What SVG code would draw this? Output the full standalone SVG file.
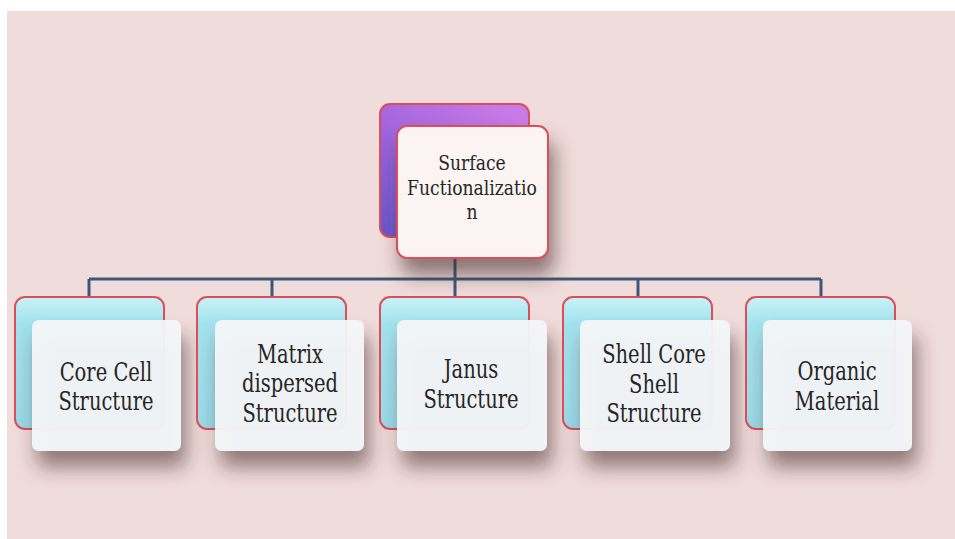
<svg xmlns="http://www.w3.org/2000/svg" width="955" height="539" viewBox="0 0 955 539">
<defs>
<style>
.back{stroke:#d9505a;stroke-width:2}
.cyan{fill:url(#gCyan)}
.purple{fill:url(#gPurple)}
.front{fill:#f4f7f9;fill-opacity:0.94;filter:url(#sh)}
.ftop{fill:#fcf3f3;stroke:#d9505a;stroke-width:2;filter:url(#sh)}
.lbl{font-family:"DejaVu Serif","Liberation Serif",serif;font-size:26px;fill:#262626;text-anchor:middle}
.tlbl{font-family:"DejaVu Serif","Liberation Serif",serif;font-size:20px;fill:#262626;text-anchor:middle}
.conn{stroke:#3c5878;stroke-width:3;fill:none}
</style>
<linearGradient id="gCyan" x1="0" y1="0" x2="0" y2="1">
<stop offset="0" stop-color="#c9f2f7"/>
<stop offset="0.2" stop-color="#a3e3ee"/>
<stop offset="1" stop-color="#9adbe9"/>
</linearGradient>
<linearGradient id="gPurple" x1="0.8" y1="0" x2="0" y2="0.9">
<stop offset="0" stop-color="#c97ae6"/>
<stop offset="0.5" stop-color="#a466de"/>
<stop offset="1" stop-color="#6c58d0"/>
</linearGradient>
<filter id="sh" x="-20%" y="-20%" width="150%" height="170%">
<feDropShadow dx="5" dy="16" stdDeviation="10" flood-color="#4a2a2a" flood-opacity="0.6"/>
</filter>
</defs>
<rect x="0" y="0" width="955" height="539" fill="#ffffff"/>
<rect x="7" y="11" width="948" height="528" fill="#f0dcdb"/>
<g id="connectors">
<line class="conn" x1="455" y1="258" x2="455" y2="279"/>
<line class="conn" x1="89" y1="279" x2="821" y2="279"/>
<line class="conn" x1="89" y1="279" x2="89" y2="297"/>
<line class="conn" x1="272" y1="279" x2="272" y2="297"/>
<line class="conn" x1="455" y1="279" x2="455" y2="297"/>
<line class="conn" x1="638" y1="279" x2="638" y2="297"/>
<line class="conn" x1="821" y1="279" x2="821" y2="297"/>
</g>
<g id="root">
<rect class="back purple" x="380" y="104" width="149" height="133" rx="10"/>
<rect class="ftop" x="397" y="126" width="151" height="132" rx="10"/>
<g transform="translate(472,0) scale(0.86,1)">
<text class="tlbl" x="0" y="170">Surface</text>
<text class="tlbl" x="0" y="195">Fuctionalizatio</text>
<text class="tlbl" x="0" y="219">n</text>
</g>
</g>
<g id="n1">
<rect class="back cyan" x="15" y="297" width="149" height="132" rx="10"/>
<rect class="front" x="32" y="320" width="149" height="131" rx="7"/>
<g transform="translate(106,0) scale(0.75,1)">
<text class="lbl" x="0" y="381">Core Cell</text>
<text class="lbl" x="0" y="410">Structure</text>
</g>
</g>
<g id="n2">
<rect class="back cyan" x="197" y="297" width="149" height="132" rx="10"/>
<rect class="front" x="215" y="320" width="149" height="131" rx="7"/>
<g transform="translate(290,0) scale(0.75,1)">
<text class="lbl" x="0" y="363">Matrix</text>
<text class="lbl" x="0" y="392">dispersed</text>
<text class="lbl" x="0" y="422">Structure</text>
</g>
</g>
<g id="n3">
<rect class="back cyan" x="380" y="297" width="149" height="132" rx="10"/>
<rect class="front" x="397" y="320" width="150" height="131" rx="7"/>
<g transform="translate(471,0) scale(0.75,1)">
<text class="lbl" x="0" y="378">Janus</text>
<text class="lbl" x="0" y="408">Structure</text>
</g>
</g>
<g id="n4">
<rect class="back cyan" x="563" y="297" width="149" height="132" rx="10"/>
<rect class="front" x="580" y="320" width="150" height="131" rx="7"/>
<g transform="translate(654,0) scale(0.75,1)">
<text class="lbl" x="0" y="363">Shell Core</text>
<text class="lbl" x="0" y="393">Shell</text>
<text class="lbl" x="0" y="422">Structure</text>
</g>
</g>
<g id="n5">
<rect class="back cyan" x="746" y="297" width="149" height="132" rx="10"/>
<rect class="front" x="763" y="320" width="149" height="131" rx="7"/>
<g transform="translate(837,0) scale(0.75,1)">
<text class="lbl" x="0" y="380">Organic</text>
<text class="lbl" x="0" y="410">Material</text>
</g>
</g>
</svg>
